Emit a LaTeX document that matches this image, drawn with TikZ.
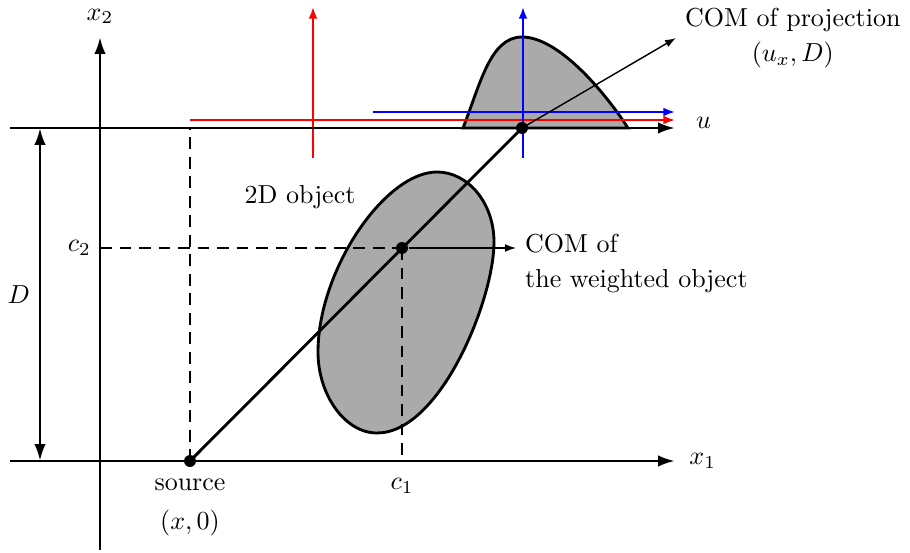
\documentclass[tikz,border=0pt]{standalone}
\usepackage{tikz}
\usetikzlibrary{arrows.meta,positioning}
\definecolor{pjInk}{HTML}{000000}
\definecolor{pjFill}{HTML}{AAAAAA}
\definecolor{pjRed}{HTML}{FF0000}
\definecolor{pjBlue}{HTML}{0000FF}
\tikzset{
  pj axis/.style={
    draw=pjInk,
    line width=1.1pt,
    -{Latex[length=6.5pt,width=4.4pt]}
  },
  pj span/.style={
    draw=pjInk,
    line width=1.1pt,
    {Latex[length=6.5pt,width=4.4pt]}-{Latex[length=6.5pt,width=4.4pt]}
  },
  pj guide/.style={
    draw=pjInk,
    line width=1.1pt,
    dash pattern=on 4.5pt off 3pt
  },
  pj ray/.style={draw=pjInk, line width=1.1pt},
  pj pointer/.style={
    draw=pjInk,
    line width=.55pt,
    -{Latex[length=4.2pt,width=3pt]}
  },
  pj red/.style={
    draw=pjRed,
    line width=.8pt,
    -{Latex[length=4.5pt,width=3.4pt]}
  },
  pj blue/.style={pj red, draw=pjBlue},
  pj shape/.style={draw=pjInk, fill=pjFill, line width=1.1pt},
  pj dot/.style={circle, fill=pjInk, inner sep=0pt, minimum size=4.6pt},
  pj label/.style={font=\normalsize, text=pjInk}
}

\begin{document}
\begin{tikzpicture}[x=1.3518cm,y=-1.3518cm]
  \useasboundingbox (0,0) rectangle (9.10,5.52);

  % projection and object
  \draw[pj shape] (4.63,1.28) .. controls (4.80,0.85) and (4.90,0.37) .. (5.22,0.37)
    .. controls (5.57,0.37) and (6.02,0.88) .. (6.28,1.28) -- cycle;
  \draw[pj shape] (4.37,1.72) .. controls (4.68,1.72) and (4.94,2.03) .. (4.94,2.42)
    .. controls (4.94,3.00) and (4.40,4.33) .. (3.77,4.33)
    .. controls (3.45,4.33) and (3.18,3.95) .. (3.18,3.52)
    .. controls (3.18,2.70) and (3.85,1.72) .. (4.37,1.72) -- cycle;

  % axes
  \coordinate (x1 start) at (0.10,4.61);
  \coordinate (x1 end) at (6.75,4.61);
  \coordinate (u start) at (0.10,1.28);
  \coordinate (u end) at (6.75,1.28);
  \coordinate (x2 start) at (1.00,5.50);
  \coordinate (x2 end) at (1.00,0.37);
  \coordinate (red start) at (1.90,1.20);
  \coordinate (red end) at (6.75,1.20);
  \coordinate (red low) at (3.13,1.58);
  \coordinate (red top) at (3.13,0.07);
  \coordinate (blue start) at (3.73,1.12);
  \coordinate (blue end) at (6.75,1.12);
  \coordinate (blue low) at (5.23,1.58);
  \coordinate (blue top) at (5.23,0.07);

  \draw[pj red] (red start) -- (red end);
  \draw[pj red] (red low) -- (red top);
  \draw[pj blue] (blue start) -- (blue end);
  \draw[pj blue] (blue low) -- (blue top);
  \draw[pj axis] (x1 start) -- (x1 end);
  \draw[pj axis] (u start) -- (u end);
  \draw[pj axis] (x2 start) -- (x2 end);
  \draw[pj span] (0.40,1.28) -- (0.40,4.61)
    node[midway, left=0pt, pj label] (D) {$D$};

  \node[pj label, right=2pt of x1 end] (x1) {$x_1$};
  \node[pj label, anchor=base west] (u) at (6.87,1.28) {$u$};
  \node[pj label, above=1.5pt of x2 end] (x2) {$x_2$};

  % points
  \node[pj dot] (source) at (1.90,4.61) {};
  \node[pj dot] (com) at (4.02,2.48) {};
  \node[pj dot] (proj) at (5.22,1.28) {};
  \coordinate (source top) at (1.90,1.28);
  \coordinate (c1 foot) at (4.02,4.61);
  \coordinate (c2 foot) at (1.00,2.48);

  \draw[pj guide] (source.center) -- (source top);
  \draw[pj guide] (c2 foot) -- (com.center);
  \draw[pj guide] (com.center) -- (c1 foot);
  \draw[pj ray] (source.center) -- (proj.center);

  \node[pj label, below=3pt of c1 foot] (c1) {$c_1$};
  \node[pj label, left=0pt of c2 foot] (c2) {$c_2$};
  \node[pj label, below=1pt of source, align=center] (source text)
    {source\\[2.8pt]$(x,0)$};
  \node[pj label] (object) at (3.00,1.97) {2D object};

  \node[pj label, anchor=north west, align=left] (com text) at (5.16,2.25)
    {COM of\\[1.5pt]the weighted object};
  \draw[pj pointer] (com) -- (com text.west |- com);

  \node[pj label, anchor=west, align=center] (proj text) at (6.76,0.38)
    {COM of projection\\[1.5pt]$(u_x,D)$};
  \draw[pj pointer] (proj.center) -- (proj text.west);
\end{tikzpicture}
\end{document}
